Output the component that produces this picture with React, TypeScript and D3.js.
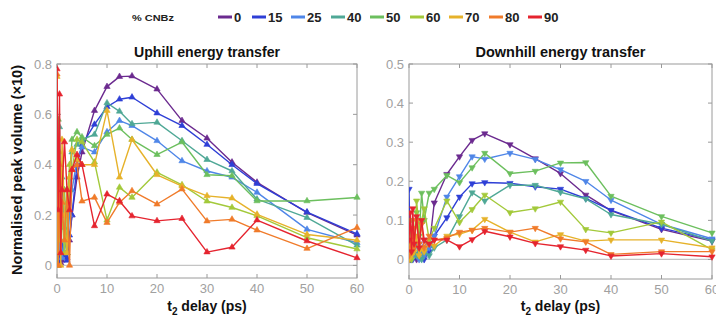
import React from 'react';
import * as d3 from 'd3';

// t2 delay (ps)
const delays = [0, 0.25, 0.5, 0.75, 1, 1.5, 2, 2.5, 3, 4, 5, 7.5, 10, 12.5, 15, 20, 25, 30, 35, 40, 50, 60];

const cnbz = ['0', '15', '25', '40', '50', '60', '70', '80', '90'];
const seriesColors = ['#6b2a8f', '#2e3fd6', '#4f86e8', '#4fa896', '#6cbf5e', '#a3c93a', '#e6b22a', '#f07b2a', '#e5242f'];

// Uphill energy transfer
const up0 = [0.02, 0.0, 0.03, 0.01, 0.02, 0.05, 0.03, 0.1, 0.2, 0.35, 0.45, 0.615, 0.71, 0.75, 0.752, 0.70, 0.575, 0.505, 0.41, 0.33, 0.21, 0.12];
const up15 = [0.05, 0.02, 0.1, 0.03, 0.08, 0.04, 0.02, 0.12, 0.2, 0.4, 0.48, 0.56, 0.63, 0.66, 0.668, 0.605, 0.555, 0.48, 0.40, 0.325, 0.212, 0.125];
const up25 = [0.1, 0.3, 0.05, 0.2, 0.03, 0.1, 0.05, 0.2, 0.3, 0.42, 0.47, 0.45, 0.53, 0.575, 0.555, 0.495, 0.415, 0.375, 0.35, 0.29, 0.143, 0.09];
const up40 = [0.3, 0.1, 0.55, 0.2, 0.35, 0.15, 0.05, 0.3, 0.45, 0.48, 0.5, 0.52, 0.645, 0.612, 0.562, 0.568, 0.495, 0.42, 0.375, 0.263, 0.19, 0.08];
const up50 = [0.2, 0.58, 0.1, 0.4, 0.2, 0.3, 0.05, 0.35, 0.5, 0.53, 0.51, 0.475, 0.52, 0.545, 0.50, 0.44, 0.49, 0.36, 0.356, 0.256, 0.256, 0.27];
const up60 = [0.0, 0.3, 0.45, 0.1, 0.2, 0.05, 0.25, 0.4, 0.38, 0.5, 0.49, 0.41, 0.18, 0.31, 0.27, 0.37, 0.32, 0.255, 0.23, 0.197, 0.11, 0.065];
const up70 = [0.75, 0.05, 0.3, 0.0, 0.5, 0.2, 0.05, 0.35, 0.46, 0.42, 0.4, 0.40, 0.615, 0.35, 0.50, 0.36, 0.315, 0.276, 0.267, 0.203, 0.123, 0.10];
const up80 = [0.76, 0.0, 0.4, 0.05, 0.25, 0.1, 0.3, 0.0, 0.38, 0.40, 0.255, 0.27, 0.17, 0.25, 0.296, 0.243, 0.303, 0.176, 0.183, 0.14, 0.067, 0.15];
const up90 = [0.78, 0.22, 0.68, 0.05, 0.3, 0.49, 0.3, 0.22, 0.38, 0.44, 0.40, 0.157, 0.283, 0.256, 0.196, 0.177, 0.186, 0.053, 0.072, 0.18, 0.097, 0.03];

// Downhill energy transfer
const dn0 = [0.03, 0.0, 0.02, 0.01, 0.03, 0.0, 0.01, 0.02, 0.05, 0.03, 0.145, 0.218, 0.263, 0.305, 0.322, 0.294, 0.258, 0.22, 0.165, 0.125, 0.077, 0.047];
const dn15 = [0.18, 0.02, 0.05, 0.0, 0.03, 0.01, 0.04, 0.02, 0.0, 0.02, 0.06, 0.107, 0.16, 0.194, 0.197, 0.195, 0.186, 0.18, 0.156, 0.126, 0.08, 0.05];
const dn25 = [0.02, 0.05, 0.0, 0.03, 0.01, 0.04, 0.0, 0.02, 0.01, 0.03, 0.06, 0.16, 0.212, 0.263, 0.257, 0.272, 0.256, 0.23, 0.2, 0.152, 0.09, 0.053];
const dn40 = [0.01, 0.03, 0.0, 0.02, 0.04, 0.01, 0.03, 0.0, 0.02, 0.01, 0.03, 0.05, 0.11, 0.171, 0.15, 0.19, 0.19, 0.172, 0.155, 0.115, 0.09, 0.047];
const dn50 = [0.05, 0.1, 0.02, 0.08, 0.03, 0.12, 0.06, 0.17, 0.1, 0.17, 0.18, 0.215, 0.197, 0.235, 0.272, 0.22, 0.226, 0.247, 0.248, 0.162, 0.11, 0.068];
const dn60 = [0.02, 0.06, 0.0, 0.1, 0.04, 0.15, 0.08, 0.1, 0.13, 0.05, 0.08, 0.15, 0.095, 0.128, 0.165, 0.12, 0.13, 0.147, 0.077, 0.068, 0.096, 0.025];
const dn70 = [0.0, 0.03, 0.01, 0.05, 0.02, 0.06, 0.01, 0.03, 0.02, 0.04, 0.035, 0.06, 0.065, 0.075, 0.103, 0.07, 0.045, 0.064, 0.047, 0.05, 0.05, 0.03];
const dn80 = [0.01, 0.05, 0.02, 0.08, 0.03, 0.1, 0.04, 0.09, 0.03, 0.06, 0.05, 0.055, 0.07, 0.075, 0.08, 0.07, 0.08, 0.053, 0.045, 0.013, 0.02, 0.02];
const dn90 = [0.05, 0.12, 0.02, 0.13, 0.04, 0.11, 0.03, 0.1, 0.05, 0.04, 0.05, 0.05, 0.033, 0.051, 0.072, 0.058, 0.041, 0.033, 0.024, 0.009, 0.015, 0.007];

const uphill = [up0, up15, up25, up40, up50, up60, up70, up80, up90];
const downhill = [dn0, dn15, dn25, dn40, dn50, dn60, dn70, dn80, dn90];

const xTicks = [0, 10, 20, 30, 40, 50, 60];
const upYTicks = [0, 0.2, 0.4, 0.6, 0.8];
const dnYTicks = [0, 0.1, 0.2, 0.3, 0.4, 0.5];

const BOLD = "'Liberation Sans Narrow', 'Liberation Sans', Arial, sans-serif";
const THIN = "'Liberation Sans', Arial, sans-serif";

type PanelProps = {
  left: number; right: number; top: number; bottom: number;
  yMax: number; yTicks: number[]; data: number[][]; down: boolean;
  title: string; titleWidth: number;
};

function Panel({ left, right, top, bottom, yMax, yTicks, data, down, title, titleWidth }: PanelProps) {
  const x = d3.scaleLinear().domain([0, 60]).range([left, right]);
  const y = d3.scaleLinear().domain([-0.05, yMax]).range([bottom, top]);
  const line = d3.line<number>().x((_, i) => x(delays[i])).y((d) => y(d));
  const tri = d3.symbol(d3.symbolTriangle, 17)() as string;
  const tickLen = 4;
  const grey = '#9a9a9a';
  const cx = (left + right) / 2;
  return (
    <g>
      <defs>
        <clipPath id={`clip-${left}`}>
          <rect x={left} y={top - 6} width={right - left + 6} height={bottom - top + 6} />
        </clipPath>
      </defs>
      {/* zero line */}
      <line x1={left} x2={right} y1={y(0)} y2={y(0)} stroke="#c4c4c4" strokeWidth={1.2} />
      {/* box */}
      <rect x={left} y={top} width={right - left} height={bottom - top} fill="none" stroke={grey} strokeWidth={1} />
      {xTicks.map((t) => (
        <g key={`xt${t}`}>
          <line x1={x(t)} x2={x(t)} y1={bottom} y2={bottom - tickLen} stroke={grey} />
          <line x1={x(t)} x2={x(t)} y1={top} y2={top + tickLen} stroke={grey} />
          <text x={x(t)} y={bottom + 15} textAnchor="middle" fontFamily={THIN} fontSize={13} fill="#a0a0a0">{t}</text>
        </g>
      ))}
      {yTicks.map((t) => (
        <g key={`yt${t}`}>
          <line x1={left} x2={left + tickLen} y1={y(t)} y2={y(t)} stroke={grey} />
          <line x1={right} x2={right - tickLen} y1={y(t)} y2={y(t)} stroke={grey} />
          <text x={left - 5} y={y(t)} dy="0.35em" textAnchor="end" fontFamily={THIN} fontSize={13} fill="#a0a0a0">{+t.toFixed(1)}</text>
        </g>
      ))}
      <g clipPath={`url(#clip-${left})`}>
        {data.map((vals, si) => (
          <g key={`s${si}`}>
            <path d={line(vals) as string} fill="none" stroke={seriesColors[si]} strokeWidth={1.4} strokeLinejoin="round" />
            {vals.map((v, i) => (
              <path key={i} d={tri} fill={seriesColors[si]} stroke={seriesColors[si]} strokeWidth={0.6}
                transform={`translate(${x(delays[i])},${y(v)})${down ? ' rotate(180)' : ''}`} />
            ))}
          </g>
        ))}
      </g>
      <text x={cx} y={57} textAnchor="middle" fontFamily={BOLD} fontWeight="bold" fontSize={14} fill="#111"
        textLength={titleWidth} lengthAdjust="spacingAndGlyphs">{title}</text>
      <text x={cx} y={311} textAnchor="middle" fontFamily={BOLD} fontWeight="bold" fontSize={14} fill="#111">
        t<tspan fontSize={10} dy={4}>2</tspan><tspan dy={-4}> delay (ps)</tspan>
      </text>
    </g>
  );
}

export default function App() {
  const legendStarts = [218, 252, 291, 331, 370, 410, 449, 489, 528];
  return (
    <svg width={716} height={322} style={{ position: 'absolute', left: 0, top: 0, background: '#fff' }}>
      <text x={132} y={21} fontFamily={BOLD} fontWeight="bold" fontSize={9} fill="#222" textLength={42} lengthAdjust="spacingAndGlyphs">% CNBz</text>
      {cnbz.map((c, i) => (
        <g key={c}>
          <line x1={legendStarts[i]} x2={legendStarts[i] + 14} y1={17} y2={17} stroke={seriesColors[i]} strokeWidth={3} />
          <text x={legendStarts[i] + 16} y={22} fontFamily={BOLD} fontWeight="bold" fontSize={13} fill="#222">{c}</text>
        </g>
      ))}
      <Panel left={57} right={357} top={64} bottom={278} yMax={0.8} yTicks={upYTicks} data={uphill} down={false}
        title="Uphill energy transfer" titleWidth={146} />
      <Panel left={409} right={712} top={64} bottom={279} yMax={0.5} yTicks={dnYTicks} data={downhill} down={true}
        title="Downhill energy transfer" titleWidth={170} />
      <text transform="translate(22,170) rotate(-90)" textAnchor="middle" fontFamily={BOLD} fontWeight="bold" fontSize={14} fill="#111"
        textLength={210} lengthAdjust="spacingAndGlyphs">Normalised peak volume (×10)</text>
    </svg>
  );
}
